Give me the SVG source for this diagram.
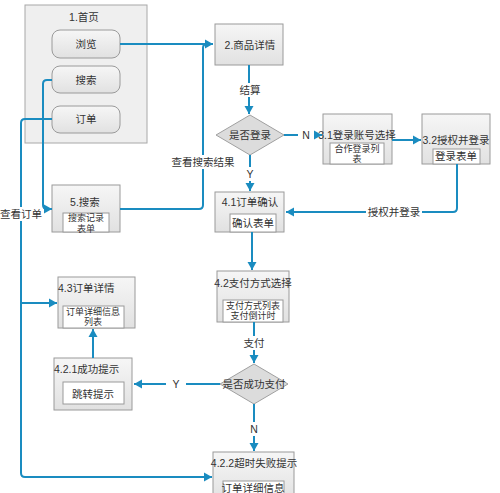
<svg xmlns="http://www.w3.org/2000/svg" width="500" height="493" viewBox="0 0 500 493">
<defs>
<linearGradient id="g" x1="0" y1="0" x2="0" y2="1">
<stop offset="0" stop-color="#f6f6f6"/>
<stop offset="1" stop-color="#e1e1e1"/>
</linearGradient>
<marker id="ah" markerUnits="userSpaceOnUse" markerWidth="10" markerHeight="10" refX="8" refY="5" orient="auto">
<path d="M0,0.5 L8,5 L0,9.5 Z" fill="#1a8cc0"/>
</marker>
<style>
.box{fill:url(#g);stroke:#9a9a9a;stroke-width:1}
.home{fill:#efefef;stroke:#a8a8a8;stroke-width:1}
.btn{fill:url(#g);stroke:#9a9a9a;stroke-width:1}
.inner{fill:#ffffff;stroke:#9a9a9a;stroke-width:1}
.dia{fill:#dcdcdc;stroke:#a0a0a0;stroke-width:1}
.t{font-family:"Liberation Sans","Noto Sans CJK SC",sans-serif;font-size:10.5px;fill:#333;text-anchor:middle;dominant-baseline:central}
.s{font-size:9px}
.tl{text-anchor:start}
.c{fill:none;stroke:#1a8cc0;stroke-width:2}
.lb{fill:#ffffff}
</style>
</defs>
<rect width="500" height="493" fill="#ffffff"/>

<g id="n1">
<rect class="home" x="25" y="5" width="122" height="138"/>
<text class="t" x="84" y="17">1.首页</text>
</g>
<g id="n1a">
<rect class="btn" x="52" y="30" width="68" height="28" rx="8"/>
<text class="t" x="86" y="44">浏览</text>
</g>
<g id="n1b">
<rect class="btn" x="52" y="66" width="68" height="27" rx="8"/>
<text class="t" x="86" y="80">搜索</text>
</g>
<g id="n1c">
<rect class="btn" x="52" y="106" width="68" height="27" rx="8"/>
<text class="t" x="86" y="119">订单</text>
</g>

<g id="n2">
<rect class="box" x="215" y="24" width="68" height="41"/>
<text class="t" x="250" y="45">2.商品详情</text>
</g>

<g id="d1">
<polygon class="dia" points="250,115 284,135 250,155 216,135"/>
<text class="t" x="250" y="135">是否登录</text>
</g>

<g id="n31">
<rect class="box" x="323" y="114" width="69" height="50"/>
<text class="t" x="357" y="135">3.1登录账号选择</text>
<rect class="inner" x="330" y="143" width="54" height="21"/>
<text class="t s" x="357" y="148.5">合作登录列</text>
<text class="t s" x="357" y="159">表</text>
</g>

<g id="n32">
<rect class="box" x="422" y="114" width="68" height="50"/>
<text class="t" x="456" y="140">3.2授权并登录</text>
<rect class="inner" x="433" y="149" width="47" height="15"/>
<text class="t" x="456" y="156">登录表单</text>
</g>

<g id="n5">
<rect class="box" x="52" y="185" width="68" height="47"/>
<text class="t" x="85" y="202">5.搜索</text>
<rect class="inner" x="63" y="213" width="46" height="19"/>
<text class="t s" x="86" y="218">搜索记录</text>
<text class="t s" x="86" y="228.5">表单</text>
</g>

<g id="n41">
<rect class="box" x="215" y="192" width="69" height="40"/>
<text class="t" x="250" y="202">4.1订单确认</text>
<rect class="inner" x="230" y="214" width="46" height="18"/>
<text class="t" x="253" y="223">确认表单</text>
</g>

<g id="n42">
<rect class="box" x="217" y="271" width="72" height="51"/>
<text class="t" x="253" y="283">4.2支付方式选择</text>
<rect class="inner" x="223" y="300" width="60" height="22"/>
<text class="t s" x="253" y="305.5">支付方式列表</text>
<text class="t s" x="253" y="316">支付倒计时</text>
</g>

<g id="d2">
<polygon class="dia" points="254,364 288,384 254,404 220,384"/>
<text class="t" x="254" y="384">是否成功支付</text>
</g>

<g id="n43">
<rect class="box" x="58" y="277" width="77" height="51"/>
<text class="t tl" x="58" y="288">4.3订单详情</text>
<rect class="inner" x="63" y="306" width="61" height="22"/>
<text class="t s" x="93" y="311.5">订单详细信息</text>
<text class="t s" x="93" y="322">列表</text>
</g>

<g id="n421">
<rect class="box" x="54" y="358" width="78" height="52"/>
<text class="t tl" x="54" y="369">4.2.1成功提示</text>
<rect class="inner" x="63" y="382" width="61" height="22"/>
<text class="t" x="93" y="394">跳转提示</text>
</g>

<g id="n422">
<rect class="box" x="213" y="452" width="81" height="50"/>
<text class="t" x="254" y="463">4.2.2超时失败提示</text>
<rect class="inner" x="223" y="481" width="61" height="20"/>
<text class="t" x="253" y="488">订单详细信息</text>
</g>

<g id="connectors">
<path class="c" d="M120,44 H213" marker-end="url(#ah)"/>
<path class="c" d="M120,209 H199 Q203,209 203,205 V48 Q203,44 207,44 H213"/>
<path class="c" d="M52,80 H47 Q43,80 43,84 V205 Q43,209 47,209 H52" marker-end="url(#ah)"/>
<path class="c" d="M52,119 H25 Q21,119 21,123 V473 Q21,477 25,477 H212" marker-end="url(#ah)"/>
<path class="c" d="M21,303 H57" marker-end="url(#ah)"/>
<path class="c" d="M249,65 V114" marker-end="url(#ah)"/>
<path class="c" d="M284,135 H322" marker-end="url(#ah)"/>
<path class="c" d="M392,140 H421" marker-end="url(#ah)"/>
<path class="c" d="M457,164 V208 Q457,212 453,212 H286" marker-end="url(#ah)"/>
<path class="c" d="M250,155 V191" marker-end="url(#ah)"/>
<path class="c" d="M252,232 V270" marker-end="url(#ah)"/>
<path class="c" d="M254,322 V363" marker-end="url(#ah)"/>
<path class="c" d="M254,404 V451" marker-end="url(#ah)"/>
<path class="c" d="M220,384 H134" marker-end="url(#ah)"/>
<path class="c" d="M93,358 V329" marker-end="url(#ah)"/>
<rect class="lb" x="236" y="83" width="28" height="14"/>
<text class="t" x="250" y="90">结算</text>
<rect class="lb" x="298" y="128" width="16" height="14"/>
<text class="t" x="306" y="135">N</text>
<rect class="lb" x="243" y="167" width="14" height="14"/>
<text class="t" x="250" y="174">Y</text>
<rect class="lb" x="170" y="155" width="66" height="14"/>
<text class="t" x="203" y="162">查看搜索结果</text>
<rect class="lb" x="366" y="205" width="56" height="14"/>
<text class="t" x="394" y="212">授权并登录</text>
<rect class="lb" x="1" y="207" width="40" height="14"/>
<text class="t" x="21" y="214">查看订单</text>
<rect class="lb" x="240" y="336" width="28" height="14"/>
<text class="t" x="254" y="343">支付</text>
<rect class="lb" x="247" y="422" width="14" height="14"/>
<text class="t" x="254" y="429">N</text>
<rect class="lb" x="166" y="377" width="20" height="14"/>
<text class="t" x="176" y="384">Y</text>
</g>
</svg>
